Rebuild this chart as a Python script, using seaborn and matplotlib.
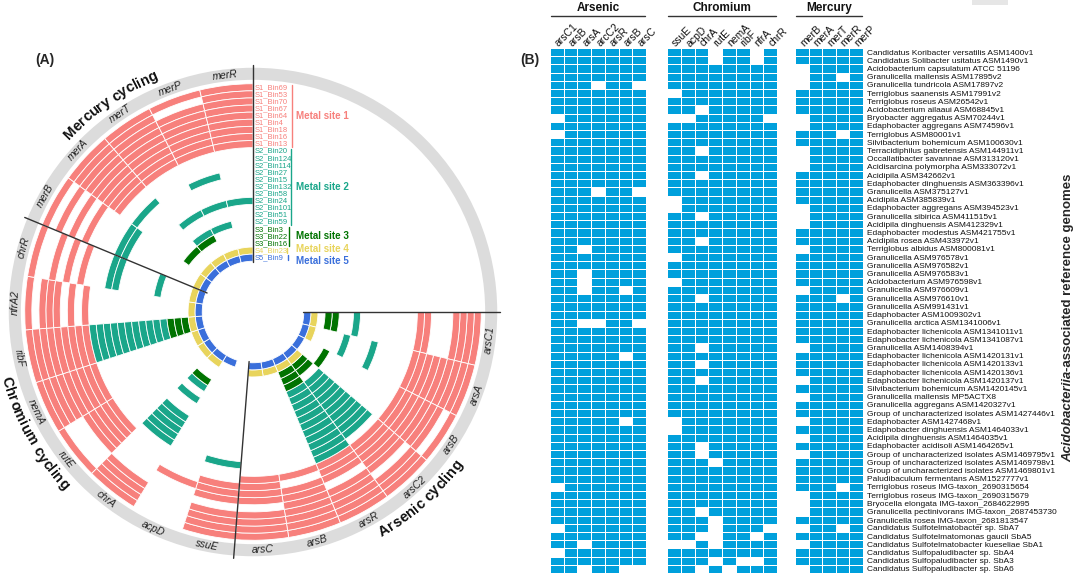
import numpy as np
import matplotlib
matplotlib.use("Agg")
import matplotlib.pyplot as plt
import seaborn as sns
from matplotlib.colors import ListedColormap
from matplotlib.transforms import offset_copy
from matplotlib.patches import Rectangle
from matplotlib.font_manager import FontProperties

sns.set_theme(style="white")
plt.rcParams['font.family'] = ['Liberation Sans', 'DejaVu Sans']

# ---------------- panel A : circular heatmap ----------------
# sectors, clockwise from 3 o'clock
circle_genes = ["arsC1", "arsA", "arsB", "arsC2", "arsR", "arsB", "arsC",
                "ssuE", "acpD", "chrA", "rutE", "nemA", "ribF", "nfrA2", "chrR",
                "merB", "merA", "merT", "merP", "merR"]

site_names = ["Metal site 1", "Metal site 2", "Metal site 3", "Metal site 4", "Metal site 5"]
site_colors = ["#F7807C", "#1AA68A", "#007300", "#E8D45C", "#3A6FDB"]

site1_bins = ["S1_Bin69", "S1_Bin53", "S1_Bin70", "S1_Bin67", "S1_Bin64",
              "S1_Bin4", "S1_Bin18", "S1_Bin16", "S1_Bin13"]
site2_bins = ["S2_Bin20", "S2_Bin124", "S2_Bin114", "S2_Bin27", "S2_Bin15", "S2_Bin132",
              "S2_Bin58", "S2_Bin24", "S2_Bin101", "S2_Bin51", "S2_Bin59"]
site3_bins = ["S3_Bin3", "S3_Bin22", "S3_Bin16"]
site4_bins = ["S4_Bin23"]
site5_bins = ["S5_Bin9"]

# one string per bin (outer ring first), one char per sector
site1_rows = ["11111111011111111111",
              "11011111010110001101",
              "11111111010111011111",
              "11101111010111101111",
              "01111100001111011111",
              "01110111001110101111",
              "01111111101111011111",
              "11111011001110101111",
              "11111110001111001111"]
site2_rows = ["00001000000010000000",
              "00011001010010000000",
              "00011000010010111000",
              "00011000010010110010",
              "00011000010010000000",
              "01011000010010000000",
              "00011000000010000000",
              "00011000000010000111",
              "10011000010010000000",
              "01011000000010100000",
              "00011000010010000110"]
site3_rows = ["10101000010010001100",
              "10011000000010000000",
              "00011000000010000000"]
site4_rows = ["11011110011111111111"]
site5_rows = ["11111110111111111111"]

# ---------------- panel B : heatmap ----------------
genomes = [
    "Candidatus Koribacter versatilis ASM1400v1", "Candidatus Solibacter usitatus ASM1490v1",
    "Acidobacterium capsulatum ATCC 51196", "Granulicella mallensis ASM17895v2",
    "Granulicella tundricola ASM17897v2", "Terriglobus saanensis ASM17991v2",
    "Terriglobus roseus ASM26542v1", "Acidobacterium ailaaui ASM68845v1",
    "Bryobacter aggregatus ASM70244v1", "Edaphobacter aggregans ASM74596v1",
    "Terriglobus ASM80001v1", "Silvibacterium bohemicum ASM100630v1",
    "Terracidiphilus gabretensis ASM144911v1", "Occallatibacter savannae ASM313120v1",
    "Acidisarcina polymorpha ASM333072v1", "Acidipila ASM342662v1",
    "Edaphobacter dinghuensis ASM363396v1", "Granulicella ASM375127v1",
    "Acidipila ASM385839v1", "Edaphobacter aggregans ASM394523v1",
    "Granulicella sibirica ASM411515v1", "Acidipila dinghuensis ASM412329v1",
    "Edaphobacter modestus ASM421755v1", "Acidipila rosea ASM433972v1",
    "Terriglobus albidus ASM800081v1", "Granulicella ASM976578v1",
    "Granulicella ASM976582v1", "Granulicella ASM976583v1",
    "Acidobacterium ASM976598v1", "Granulicella ASM976609v1",
    "Granulicella ASM976610v1", "Granulicella ASM991431v1",
    "Edaphobacter ASM1009302v1", "Granulicella arctica ASM1341006v1",
    "Edaphobacter lichenicola ASM1341011v1", "Edaphobacter lichenicola ASM1341087v1",
    "Granulicella ASM1408394v1", "Edaphobacter lichenicola ASM1420131v1",
    "Edaphobacter lichenicola ASM1420133v1", "Edaphobacter lichenicola ASM1420136v1",
    "Edaphobacter lichenicola ASM1420137v1", "Silvibacterium bohemicum ASM1420145v1",
    "Granulicella mallensis MP5ACTX8", "Granulicella aggregans ASM1420327v1",
    "Group of uncharacterized isolates ASM1427446v1", "Edaphobacter ASM1427468v1",
    "Edaphobacter dinghuensis ASM1464033v1", "Acidipila dinghuensis ASM1464035v1",
    "Edaphobacter acidisoli ASM1464265v1", "Group of uncharacterized isolates ASM1469795v1",
    "Group of uncharacterized isolates ASM1469798v1", "Group of uncharacterized isolates ASM1469801v1",
    "Paludibaculum fermentans ASM1527777v1", "Terriglobus roseus IMG-taxon_2690315654",
    "Terriglobus roseus IMG-taxon_2690315679", "Bryocella elongata IMG-taxon_2684622995",
    "Granulicella pectinivorans IMG-taxon_2687453730", "Granulicella rosea IMG-taxon_2681813547",
    "Candidatus Sulfotelmatobacter sp. SbA7", "Candidatus Sulfotelmatomonas gaucii SbA5",
    "Candidatus Sulfotelmatobacter kueseliae SbA1", "Candidatus Sulfopaludibacter sp. SbA4",
    "Candidatus Sulfopaludibacter sp. SbA3", "Candidatus Sulfopaludibacter sp. SbA6",
]

arsenic_genes = ["arsC1", "arsB", "arsA", "arcC2", "arsR", "arsB", "arsC"]
chromium_genes = ["ssuE", "acpD", "chrA", "rutE", "nemA", "ribF", "nfrA", "chrR"]
mercury_genes = ["merB", "merA", "merT", "merR", "merP"]

arsenic = ["1111111", "1111111", "1111111", "1111111", "1110110", "1111111", "1111111", "1111111",
           "0111111", "1111111", "0111111", "1111111", "1111111", "1111111", "1111111", "1111111",
           "1111111", "1110110", "1111111", "1111111", "1111111", "1111111", "1111111", "1111111",
           "1101111", "1111111", "1111111", "1101111", "1101111", "1101101", "1111111", "1111111",
           "1111111", "1100110", "1111111", "1111111", "1111111", "1111101", "1111111", "1111111",
           "1111111", "1111111", "1111111", "1111111", "1111111", "1111101", "1111111", "1111111",
           "1111111", "1111111", "1111111", "1111111", "1111111", "0111111", "1111111", "1111111",
           "1111111", "1111111", "0111111", "1111111", "1101111", "0111111", "1111111", "1101100"]
chromium = ["11101101", "11101101", "11111111", "11111111", "11111111", "01111111", "11111111", "11011111",
            "00111110", "11111111", "11111111", "11111111", "11011111", "11111111", "11111111", "11011111",
            "11111111", "11111111", "01111111", "01111111", "11011111", "11111111", "11111111", "11011111",
            "11111111", "01111111", "11111111", "11111111", "01111111", "11111111", "11011111", "11111111",
            "11111111", "11111111", "11111111", "11111111", "11011111", "11111111", "11011111", "11111111",
            "11011111", "11111111", "11111111", "11111111", "11111111", "01111111", "01111111", "11111111",
            "11011111", "11011111", "11101111", "11111111", "11111111", "11111111", "11111111", "11111111",
            "11011111", "11101111", "11101110", "11001101", "00101111", "11111111", "11101001", "11010111"]
mercury = ["11111", "11111", "01111", "01101", "01111", "11111", "11111", "11111",
           "01111", "01111", "11101", "11111", "01111", "01111", "01111", "11111",
           "11111", "11111", "11111", "01111", "01111", "01111", "11111", "11111",
           "01111", "11111", "11111", "11111", "11111", "01111", "11101", "11111",
           "11111", "11111", "11111", "11111", "01111", "11111", "11111", "11111",
           "01111", "11111", "01111", "11111", "11111", "01111", "11111", "01111",
           "11111", "01111", "11111", "11111", "11111", "11101", "01111", "01111",
           "01111", "11111", "01101", "11111", "01111", "11111", "11111", "01111"]

W, H = 1080, 577
fig = plt.figure(figsize=(W / 100, H / 100), dpi=100)
renderer = fig.canvas.get_renderer()

# ---- circle
px = 7.1          # pixels per ring
hole = 7.15       # inner empty radius (in ring units)
rmax = 36.5
cx, cy = 253, 312
rp = rmax * px
axA = fig.add_axes([(cx - rp) / W, (H - cy - rp) / H, 2 * rp / W, 2 * rp / H], projection="polar")
axA.set_ylim(0, rmax)
axA.set_axis_off()

step = 13.5
theta = np.deg2rad(360 - step * (np.arange(len(circle_genes)) + 0.5))
width = np.deg2rad(step)

# grey outer band
axA.bar(np.pi, 1.7, width=2 * np.pi, bottom=32.7, color="#DCDCDC", linewidth=0)

all_rows = site1_rows + site2_rows + site3_rows + site4_rows + site5_rows
all_bins = site1_bins + site2_bins + site3_bins + site4_bins + site5_bins
groups = [site1_rows, site2_rows, site3_rows, site4_rows, site5_rows]
row_color = []
for g, c in zip(groups, site_colors):
    row_color += [c] * len(g)
n_rings = len(all_rows)

for j, row in enumerate(all_rows):
    on = np.array([ch == "1" for ch in row])
    axA.bar(theta[on], 0.999, width=width, bottom=hole + (n_rings - 1 - j),
            color=row_color[j], edgecolor="white", linewidth=0.6, align="center")

for ang in [0, 90, 157.5, 265.5]:
    axA.plot([np.deg2rad(ang)] * 2, [7.0, 34.8], color="#333333", lw=1.0, clip_on=False)

for t, g in zip(theta, circle_genes):
    d = np.rad2deg(t)
    rot = d - 90 if np.sin(t) >= 0 else d + 90
    axA.text(t, 33.55, g, rotation=rot, rotation_mode="anchor", ha="center", va="center",
             fontsize=7.5, style="italic", color="#222222")


def char_width(ch, fp):
    w2 = renderer.get_text_width_height_descent("x" + ch + "x", fp, ismath=False)[0]
    w1 = renderer.get_text_width_height_descent("xx", fp, ismath=False)[0]
    return w2 - w1


def curved_text(center_deg, r, txt, size):
    fp = FontProperties(family=plt.rcParams['font.family'], size=size, weight="bold")
    ws = np.array([char_width(ch, fp) for ch in txt])
    rpx = r * px
    total = ws.sum() / rpx
    mids = (np.cumsum(ws) - ws / 2) / rpx
    top = np.sin(np.deg2rad(center_deg)) >= 0
    c = np.deg2rad(center_deg)
    for ch, m in zip(txt, mids):
        a = c + total / 2 - m if top else c - total / 2 + m
        d = np.rad2deg(a)
        rot = d - 90 if top else d + 90
        axA.text(a, r, ch, rotation=rot, rotation_mode="anchor", ha="center", va="center",
                 fontproperties=fp, color="#111111")


curved_text(124.5, 36.0, "Mercury cycling", 10.5)
curved_text(209, 36.1, "Chromium cycling", 10.5)
curved_text(312, 35.9, "Arsenic cycling", 10.5)

lab_tr = offset_copy(axA.transData, fig=fig, x=2, y=0, units="dots")
for j, name in enumerate(all_bins):
    axA.text(np.pi / 2, hole + (n_rings - 1 - j) + 0.5, name, transform=lab_tr,
             ha="left", va="center", fontsize=5.5, color=row_color[j])

start = 0
bar_x = [39, 38, 36, 34, 35]
lab_dy = [0, 0, 0, 2, -3]
for g, c, name, bx, dy in zip(groups, site_colors, site_names, bar_x, lab_dy):
    top = hole + (n_rings - start) - 0.15
    bot = hole + (n_rings - start - len(g)) + 0.15
    axA.plot([np.pi / 2] * 2, [bot, top], color=c, lw=1.0, clip_on=False,
             transform=offset_copy(axA.transData, fig=fig, x=bx, y=0, units="dots"))
    axA.text(np.pi / 2, (top + bot) / 2, name, color=c, fontsize=7, fontweight="bold",
             ha="left", va="center",
             transform=offset_copy(axA.transData, fig=fig, x=43, y=dy, units="dots"))
    start += len(g)

# ---- heatmaps
top_px, bot_px = 48, 573
blocks = [("Arsenic", arsenic, arsenic_genes, 550, 646),
          ("Chromium", chromium, chromium_genes, 667, 777),
          ("Mercury", mercury, mercury_genes, 795, 863)]
cmap = ListedColormap(["#00A0DC"])
for i, (title, rows, genes, x0, x1) in enumerate(blocks):
    ax = fig.add_axes([x0 / W, (H - bot_px) / H, (x1 - x0) / W, (bot_px - top_px) / H])
    mat = np.array([[int(ch) for ch in r] for r in rows])
    sns.heatmap(mat, mask=(mat == 0), cmap=cmap, vmin=0, vmax=1, cbar=False,
                linewidths=0.6, linecolor="white", ax=ax,
                xticklabels=False, yticklabels=False)
    n = len(genes)
    ax.xaxis.tick_top()
    ax.set_xticks(np.arange(n) + 0.5)
    ax.set_xticklabels(genes, rotation=45, ha="left", va="center", rotation_mode="anchor",
                       fontsize=7.5, color="#111111")
    ax.tick_params(axis="x", length=0, pad=2)
    ax.plot([0.05, n - 0.05], [-3.9, -3.9], color="#333333", lw=1.0, clip_on=False)
    ax.text(n / 2, -4.9, title, ha="center", va="center", fontsize=8.5, fontweight="bold",
            color="#111111")
    if i == 2:
        ax.yaxis.tick_right()
        ax.set_yticks(np.arange(len(genomes)) + 0.5)
        ax.set_yticklabels(genomes, rotation=0, fontsize=6, color="#111111")
        ax.tick_params(axis="y", length=0, pad=3)
    else:
        ax.set_yticks([])

fig.text(45 / W, 1 - 60 / H, "(A)", fontsize=10, fontweight="bold", ha="center", va="center")
fig.text(530 / W, 1 - 60 / H, "(B)", fontsize=10, fontweight="bold", ha="center", va="center")
fig.add_artist(Rectangle((972 / W, 1 - 5 / H), 36 / W, 5 / H, transform=fig.transFigure,
                         color="#E6E6E6", lw=0))

# y label with italic class name
t1 = fig.text(1068 / W, (H - 462) / H, "Acidobacteriia", rotation=90, ha="center", va="bottom",
              fontsize=9.5, fontweight="bold", style="italic")
fig.canvas.draw()
bb = t1.get_window_extent().transformed(fig.transFigure.inverted())
fig.text(1068 / W, bb.y1, "-associated reference genomes", rotation=90, ha="center",
         va="bottom", fontsize=9.5, fontweight="bold")

fig.savefig("out.png", dpi=100)
